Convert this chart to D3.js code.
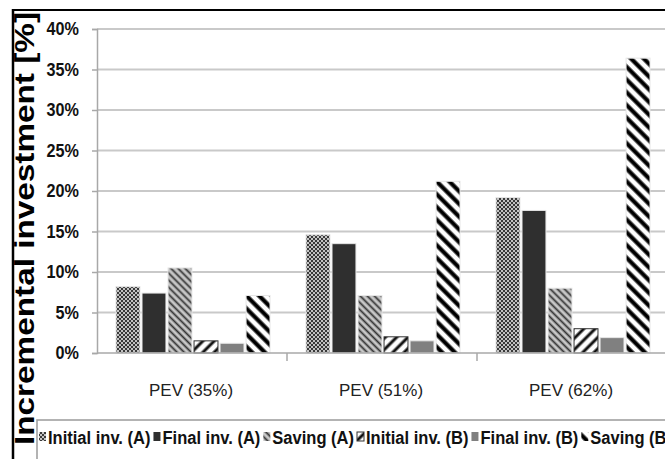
<!DOCTYPE html>
<html lang="en">
  <head>
    <meta charset="utf-8" />
    <title>Incremental investment</title>
    <script src="https://d3js.org/d3.v7.min.js"></script>
    <style>
      body {
        margin: 0;
        background-color: #ffffff;
        overflow: hidden;
      }
      text {
        font-family: "Liberation Sans", Arial, sans-serif;
      }
    </style>
  </head>

  <body>
    <div id="chart"></div>

    <script>
      // values, in percent
      const categories = ["PEV (35%)", "PEV (51%)", "PEV (62%)"];
      const seriesNames = [
        "Initial inv. (A)",
        "Final inv. (A)",
        "Saving (A)",
        "Initial inv. (B)",
        "Final inv. (B)",
        "Saving (B)",
      ];
      const initialA = [8.2, 14.6, 19.2];
      const finalA = [7.4, 13.5, 17.6];
      const savingA = [10.5, 7.1, 8.0];
      const initialB = [1.5, 2.0, 3.0];
      const finalB = [1.2, 1.5, 1.9];
      const savingB = [7.1, 21.2, 36.4];
      const yTicks = [0, 5, 10, 15, 20, 25, 30, 35, 40];

      const seriesValues = [initialA, finalA, savingA, initialB, finalB, savingB];
      const seriesKeys = ["iA", "fA", "sA", "iB", "fB", "sB"];

      const data = categories.map((c, i) => {
        const row = { category: c };
        seriesKeys.forEach((k, j) => (row[k] = seriesValues[j][i]));
        return row;
      });

      const width = 665,
        height = 459;
      const plot = { left: 97, top: 29, bottom: 353, right: 667 };

      const svg = d3
        .select("#chart")
        .append("svg")
        .attr("width", width)
        .attr("height", height);

      // fill patterns
      const defs = svg.append("defs");

      const checker = defs
        .append("pattern")
        .attr("id", "p-iA")
        .attr("patternUnits", "userSpaceOnUse")
        .attr("width", 4)
        .attr("height", 4);
      checker.append("rect").attr("width", 4).attr("height", 4).attr("fill", "#c4c4c4");
      checker.append("rect").attr("width", 2).attr("height", 2).attr("fill", "#3a3a3a");
      checker.append("rect").attr("x", 2).attr("y", 2).attr("width", 2).attr("height", 2).attr("fill", "#3a3a3a");

      function stripes(id, size, bg, fg, sw, angle) {
        const p = defs
          .append("pattern")
          .attr("id", id)
          .attr("patternUnits", "userSpaceOnUse")
          .attr("width", size)
          .attr("height", size)
          .attr("patternTransform", `rotate(${angle})`);
        p.append("rect").attr("width", size).attr("height", size).attr("fill", bg);
        p.append("line")
          .attr("x1", size / 2)
          .attr("y1", 0)
          .attr("x2", size / 2)
          .attr("y2", size)
          .attr("stroke", fg)
          .attr("stroke-width", sw);
      }
      stripes("p-sA", 5, "#c8c8c8", "#333333", 1.8, -45);
      stripes("p-iB", 8, "#ffffff", "#111111", 3, 45);
      stripes("p-sB", 9, "#ffffff", "#000000", 4.2, -45);

      const fills = {
        iA: "url(#p-iA)",
        fA: "#2f2f2f",
        sA: "url(#p-sA)",
        iB: "url(#p-iB)",
        fB: "#808080",
        sB: "url(#p-sB)",
      };
      const strokes = {
        iA: "#e6e6e6",
        fA: "#e6e6e6",
        sA: "#e6e6e6",
        iB: "#333333",
        fB: "#e6e6e6",
        sB: "#e6e6e6",
      };

      // scales
      const x0 = d3
        .scaleBand()
        .domain(categories)
        .range([plot.left, plot.right])
        .padding(0);

      const x1 = d3
        .scaleBand()
        .domain(seriesKeys)
        .range([19, 173])
        .paddingInner(0.08);

      const y = d3.scaleLinear().domain([0, 40]).range([plot.bottom, plot.top]);

      // gridlines
      svg
        .append("g")
        .selectAll("line")
        .data(yTicks.filter((t) => t > 0))
        .join("line")
        .attr("x1", plot.left)
        .attr("x2", width)
        .attr("y1", (d) => y(d))
        .attr("y2", (d) => y(d))
        .attr("stroke", "#c9c9c9")
        .attr("stroke-width", 2);

      // y axis
      const yAxis = svg
        .append("g")
        .attr("transform", `translate(${plot.left},0)`)
        .call(
          d3
            .axisLeft(y)
            .tickValues(yTicks)
            .tickSize(5)
            .tickPadding(13)
            .tickFormat((d) => d + "%")
        );
      yAxis.select(".domain").attr("stroke", "#a8a8a8").attr("stroke-width", 1.5);
      yAxis.selectAll(".tick line").attr("stroke", "#a8a8a8").attr("stroke-width", 1.5);
      yAxis
        .selectAll(".tick text")
        .attr("fill", "#111")
        .style("font-size", "18px")
        .style("font-weight", "bold")
        .style("font-family", '"Liberation Sans", Arial, sans-serif')
        .each(function () {
          const w = this.getComputedTextLength();
          d3.select(this).attr("textLength", w * 0.9).attr("lengthAdjust", "spacingAndGlyphs");
        });

      // bars
      svg
        .append("g")
        .selectAll("g")
        .data(data)
        .join("g")
        .attr("transform", (d) => `translate(${x0(d.category)},0)`)
        .selectAll("rect")
        .data((d) => seriesKeys.map((k) => ({ key: k, value: d[k] })))
        .join("rect")
        .attr("x", (d) => x1(d.key))
        .attr("y", (d) => y(d.value))
        .attr("width", x1.bandwidth())
        .attr("height", (d) => y(0) - y(d.value))
        .attr("fill", (d) => fills[d.key])
        .attr("stroke", (d) => strokes[d.key])
        .attr("stroke-width", 1);

      // x axis
      svg
        .append("line")
        .attr("x1", plot.left)
        .attr("x2", width)
        .attr("y1", plot.bottom)
        .attr("y2", plot.bottom)
        .attr("stroke", "#a8a8a8")
        .attr("stroke-width", 1.5);

      svg
        .append("g")
        .selectAll("line")
        .data(categories.slice(1))
        .join("line")
        .attr("x1", (d) => x0(d))
        .attr("x2", (d) => x0(d))
        .attr("y1", plot.bottom)
        .attr("y2", plot.bottom + 8)
        .attr("stroke", "#a8a8a8")
        .attr("stroke-width", 1.5);

      svg
        .append("g")
        .selectAll("text")
        .data(categories)
        .join("text")
        .attr("x", (d) => x0(d) + x0.bandwidth() / 2 - 1)
        .attr("y", 396)
        .attr("text-anchor", "middle")
        .attr("fill", "#222")
        .style("font-size", "17px")
        .text((d) => d);

      // y title
      svg
        .append("text")
        .attr("transform", "translate(34,445) rotate(-90)")
        .attr("textLength", 433)
        .attr("lengthAdjust", "spacingAndGlyphs")
        .style("font-size", "28px")
        .style("font-weight", "bold")
        .attr("fill", "#000")
        .text("Incremental investment [%]");

      // legend
      svg
        .append("rect")
        .attr("x", 37)
        .attr("y", 420)
        .attr("width", 700)
        .attr("height", 60)
        .attr("fill", "#fff")
        .attr("stroke", "#9a9a9a")
        .attr("stroke-width", 1.5);

      const legStart = 39,
        legEnd = 672,
        symW = 8,
        symGap = 1,
        itemGap = 3;
      const legTexts = seriesNames.map((name) =>
        svg
          .append("text")
          .attr("y", 444)
          .style("font-size", "18px")
          .style("font-weight", "bold")
          .attr("fill", "#111")
          .text(name)
      );
      const natural = legTexts.map((t) => t.node().getComputedTextLength());
      const fixed = seriesKeys.length * (symW + symGap) + (seriesKeys.length - 1) * itemGap;
      const squeeze = (legEnd - legStart - fixed) / d3.sum(natural);

      let lx = legStart;
      seriesKeys.forEach((k, i) => {
        svg
          .append("rect")
          .attr("x", lx)
          .attr("y", 432)
          .attr("width", symW - 1)
          .attr("height", 9)
          .attr("fill", fills[k])
          .attr("stroke", k === "iB" ? "#333" : "none");
        const w = natural[i] * squeeze;
        legTexts[i]
          .attr("x", lx + symW + symGap)
          .attr("textLength", w)
          .attr("lengthAdjust", "spacingAndGlyphs");
        lx += symW + symGap + w + itemGap;
      });

      // frame
      svg
        .append("line")
        .attr("x1", 12)
        .attr("x2", width)
        .attr("y1", 10)
        .attr("y2", 10)
        .attr("stroke", "#000")
        .attr("stroke-width", 2);
      svg
        .append("line")
        .attr("x1", 13)
        .attr("x2", 13)
        .attr("y1", 9)
        .attr("y2", height)
        .attr("stroke", "#000")
        .attr("stroke-width", 2.5);
    </script>
  </body>
</html>
